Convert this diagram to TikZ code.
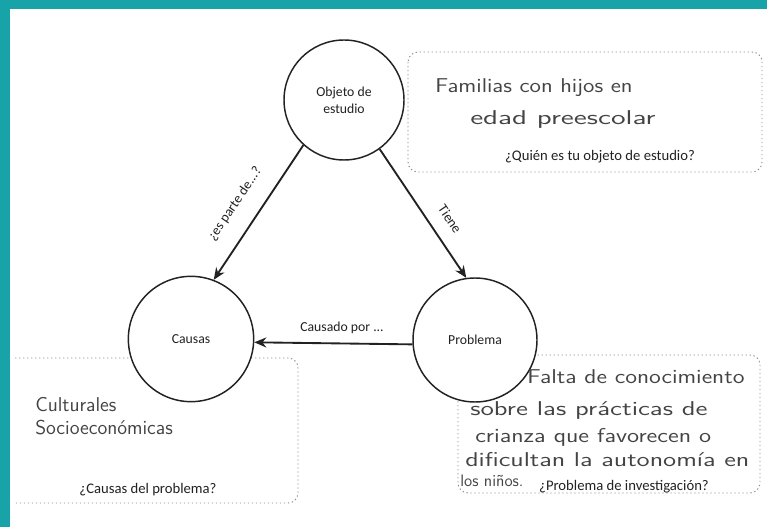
\documentclass[tikz,border=0pt]{standalone}
\usepackage{fontspec}
\usepackage{graphicx}
\setmainfont{Carlito}
\usetikzlibrary{arrows.meta}
\definecolor{tealband}{HTML}{17A3A7}
\definecolor{ink}{HTML}{222222}
\definecolor{pencil}{HTML}{444444}
\newcommand\fitline[2]{\resizebox{#1}{\height}{#2}}
\begin{document}
\begin{tikzpicture}[x=0.75pt,y=-0.75pt,
  circ/.style={circle,draw=ink,line width=1.1pt,fill=white,align=center,inner sep=0pt,
    font=\fontsize{10.3}{12.5}\selectfont,text=ink},
  conn/.style={draw=ink,line width=1.4pt,-{Stealth[length=9pt,width=7.5pt]}},
  lbl/.style={font=\fontsize{10.3}{12}\selectfont,text=ink,inner sep=1pt},
  dotbox/.style={draw=black!45,line width=0.7pt,dash pattern=on 1pt off 2pt,rounded corners=7.5pt},
  question/.style={font=\fontsize{11}{13}\selectfont,text=ink,inner sep=0pt},
  hand/.style={font=\sffamily\fontsize{15}{18}\selectfont,text=pencil,anchor=west,inner sep=0pt}]
\useasboundingbox (0,0) rectangle (767,527);
\fill[white] (0,0) rectangle (767,527);
% teal bands
\fill[tealband] (0,0) rectangle (767,9);
\fill[tealband] (0,0) rectangle (10,527);
% dotted boxes
\draw[dotbox] (408,52) rectangle (762,172);
\draw[dotbox] (15,358) -- (298,358) -- (298,503) -- (15,503);
\draw[dotbox] (458,355) rectangle (760,493);
% circles
\node[circ,minimum size=90pt] (obj) at (344,100) {Objeto de\\estudio};
\node[circ,minimum size=94pt] (causas) at (191,339) {Causas};
\node[circ,minimum size=93pt] (prob) at (475,340) {Problema};
% connectors
\draw[conn] (obj.228) -- (causas.69);
\draw[conn] (obj.306) -- (prob.98);
\draw[conn] (prob.184) -- (causas.357);
% connector labels
\node[lbl,rotate=56] (lparte) at (235,204) {¿es parte de...?};
\node[lbl,rotate=-56] (ltiene) at (450,219) {Tiene};
\node[lbl] (lcausado) at (342,328) {Causado por ...};
% questions
\node[question] (q1) at (600,157) {¿Quién es tu objeto de estudio?};
\node[question] (q2) at (148,490) {¿Causas del problema?};
\node[question] (q3) at (624,487) {¿Problema de investigación?};
% handwritten answers
\node[hand] (h1) at (435,88) {\fitline{148pt}{Familias con hijos en}};
\node[hand] (h2) at (470,120) {\fitline{139pt}{edad preescolar}};
\node[hand] (h3) at (35,405) {Culturales};
\node[hand] (h4) at (35,428) {Socioeconómicas};
\node[hand] (h5) at (527,377) {\fitline{163pt}{Falta de conocimiento}};
\node[hand] (h6) at (470,410) {\fitline{178pt}{sobre las prácticas de}};
\node[hand] (h7) at (475,437) {\fitline{177pt}{crianza que favorecen o}};
\node[hand] (h8) at (465,460) {\fitline{213pt}{dificultan la autonomía en}};
\node[hand,font=\sffamily\fontsize{12.5}{15}\selectfont] (h9) at (460,481) {los niños.};
\end{tikzpicture}
\end{document}
